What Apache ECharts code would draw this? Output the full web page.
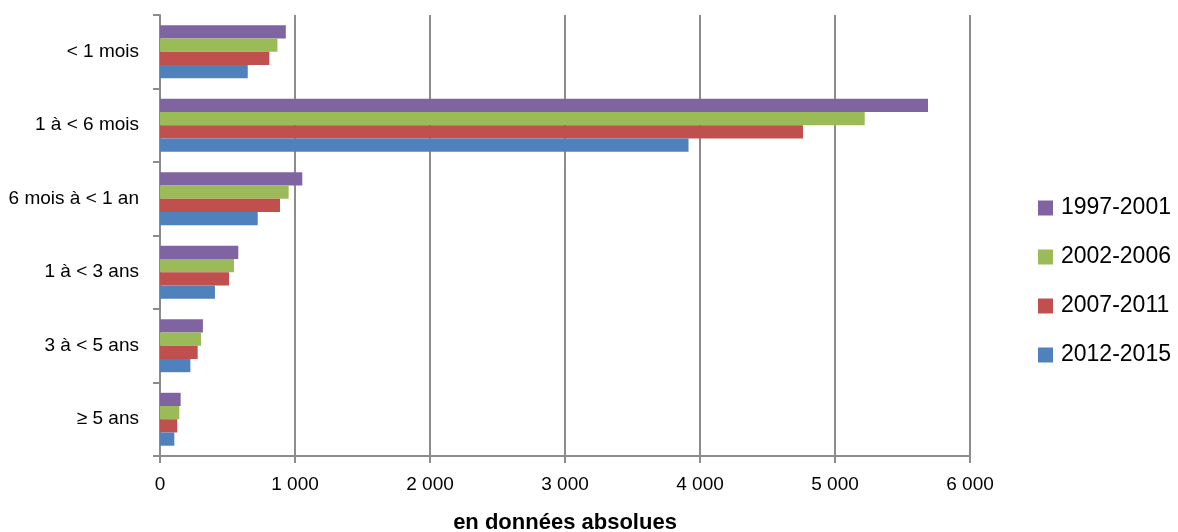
<!DOCTYPE html>
<html>
<head>
<meta charset="utf-8">
<script src="https://cdn.jsdelivr.net/npm/echarts@6/dist/echarts.min.js"></script>
<style>
html,body{margin:0;padding:0;background:#fff;}
#chart{width:1178px;height:532px;}
</style>
</head>
<body>
<div id="chart"></div>
<script>
const categories = ['< 1 mois', '1 à < 6 mois', '6 mois à < 1 an', '1 à < 3 ans', '3 à < 5 ans', '≥ 5 ans'];
const seriesNames = ['1997-2001', '2002-2006', '2007-2011', '2012-2015'];
const s1997 = [932, 5689, 1054, 580, 318, 153];
const s2002 = [870, 5220, 953, 548, 304, 143];
const s2007 = [810, 4763, 889, 511, 279, 128];
const s2012 = [650, 3915, 724, 407, 225, 106];
const xTicks = [0, 1000, 2000, 3000, 4000, 5000, 6000];
const colors = ['#8064A2', '#9BBB59', '#C0504D', '#4F81BD'];

const values = [s1997, s2002, s2007, s2012];
const font = 'Liberation Sans';
const chart = echarts.init(document.getElementById('chart'));
chart.setOption({
  animation: false,
  grid: {left: 160, right: 208, top: 15, bottom: 76, containLabel: false, outerBoundsMode: 'none'},
  legend: {
    orient: 'vertical', left: 1033, top: 191,
    data: seriesNames,
    icon: 'rect', itemWidth: 15, itemHeight: 15, itemGap: 25,
    textStyle: {fontFamily: font, fontSize: 23, color: '#000', lineHeight: 24, padding: [0,0,0,3]}
  },
  xAxis: {
    type: 'value', min: xTicks[0], max: xTicks[xTicks.length-1], interval: 1000,
    name: 'en données absolues', nameLocation: 'middle', nameGap: 56,
    nameTextStyle: {fontFamily: font, fontSize: 22, fontWeight: 'bold', color: '#000'},
    axisLine: {show: true, lineStyle: {color: '#8c8c8c', width: 2}},
    axisTick: {show: true, length: 7, lineStyle: {color: '#8c8c8c', width: 2}},
    axisLabel: {fontFamily: font, fontSize: 19, color: '#000', margin: 19,
      formatter: v => String(v).replace(/\B(?=(\d{3})+(?!\d))/g, ' ')},
    splitLine: {show: true, lineStyle: {color: '#8c8c8c', width: 2}}
  },
  yAxis: {
    type: 'category', data: categories, inverse: true,
    axisLine: {show: true, lineStyle: {color: '#8c8c8c', width: 2}},
    axisTick: {show: true, length: 7, lineStyle: {color: '#8c8c8c', width: 2}},
    axisLabel: {fontFamily: font, fontSize: 19, color: '#000', margin: 21}
  },
  series: seriesNames.map((n, i) => ({
    name: n, type: 'bar', data: values[i],
    barCategoryGap: '28%', barGap: '0%',
    itemStyle: {color: colors[i]}
  }))
});
</script>
</body>
</html>
